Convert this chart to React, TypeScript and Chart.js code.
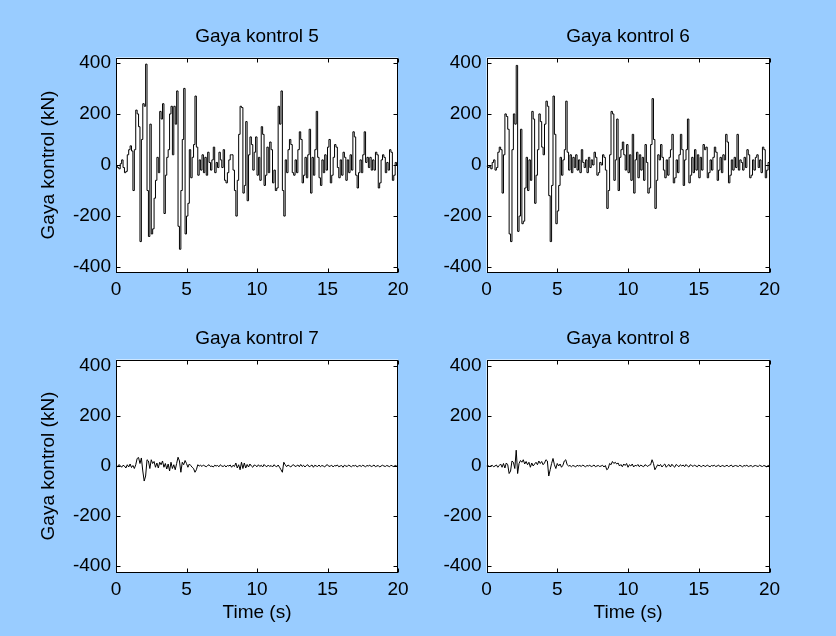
import React, { useEffect, useRef } from "react";
import { Chart, registerables } from "chart.js";

Chart.register(...registerables);

// ---------------- data ----------------
const TIME_STEP = 0.1; // seconds between samples
const X_TICKS = [0, 5, 10, 15, 20];
const Y_TICKS = [-400, -200, 0, 200, 400];
const X_MIN = 0;
const X_MAX = 20;
const Y_LIM_TOP = 421;
const Y_LIM_BOTTOM = 425;

const TITLES = ["Gaya kontrol 5", "Gaya kontrol 6", "Gaya kontrol 7", "Gaya kontrol 8"];
const Y_LABEL = "Gaya kontrol (kN)";
const X_LABEL = "Time (s)";

// Gaya kontrol 5 (kN), one value per 0.1 s, t = 0 .. 20
const GAYA5 = [
  -5, -10, -15, 5, 20, -10, -30, -25, 40, 60,
  75, 55, -100, 60, 215, 200, 150, -300, 100, 240,
  230, 395, -100, -280, 160, -270, -250, -130, -60, 30,
  -30, 210, 180, 240, -190, -40, 30, 60, 200, 230,
  40, 230, 160, 290, -240, -330, -100, 100, 300, -270,
  -200, -150, 60, -50, 30, 80, 270, 70, -40, 20,
  -20, 40, -30, 30, -40, 50, 10, -20, 20, 70,
  -30, 10, -10, 50, 20, -10, 60, -60, -70, -30,
  20, 40, 40, -20, -100, -200, -60, 120, 230, 225,
  -110, -80, 170, -140, 40, 110, 80, -20, 50, 110,
  -40, 30, -60, 150, 120, -80, -40, 70, -30, 90,
  60, -70, -20, -100, -90, 230, 160, 290, -100, -200,
  20, -30, 60, 100, 80, -30, -40, 20, -30, 60,
  130, 100, -70, -40, 30, -50, 40, 140, -110, 30,
  -40, 60, 210, 30, -50, -80, 20, -30, 40, -20,
  70, 100, -70, -40, 30, 80, 70, -10, -50, 20,
  -40, 50, 30, -60, 20, -30, 40, -20, 130, 110,
  -40, -90, -30, 20, -30, 40, 130, 10, 30, -10,
  30, -20, 20, -20, 50, 40, -90, -70, 20, 40,
  30, -30, 10, -20, 60, 50, -60, -40, 10, 0,
  10,
];

// Gaya kontrol 6 (kN)
const GAYA6 = [
  -5, -10, -5, -15, 10, 20, -20, -10, 50, 70,
  60, -110, 40, 200, 190, 140, -270, -300, 60, 200,
  160, 390, -260, -200, 140, -230, -220, -90, 30, -100,
  20, -60, 210, 180, -150, -40, 60, 200, 170, 70,
  40, 160, 250, 230, -120, -300, -80, 270, 120, -230,
  -180, -80, 30, -40, 20, 60, 250, 50, -20, 40,
  -30, 30, -10, 40, -20, 20, -30, 60, 10, -10,
  20, -30, 30, -10, 20, 0, 50, 30, -40, -30,
  10, 0, 40, 30, -20, -170, -100, 40, 210, 200,
  -60, 20, 180, -100, 30, 60, 90, 40, -20, 80,
  -30, 40, -60, 120, -110, 20, 50, -50, 40, -20,
  30, -60, 80, 10, -110, -90, 80, 260, 100, -170,
  -60, 40, 20, 80, 30, -20, -50, 20, -40, 30,
  60, 120, -70, -50, 20, -30, 40, 120, 60, -80,
  20, 60, 180, -70, -40, 30, -30, 60, -20, 40,
  -50, 30, -20, 80, 60, 70, -50, -30, 20, -20,
  30, 70, 50, -60, -20, 30, -30, 40, 20, 120,
  90, -70, -40, 20, -20, 30, -10, 120, -20, 20,
  10, -20, 30, -10, 60, 40, -50, -40, 20, -20,
  30, 40, -10, 20, -30, 70, 60, -50, -20, 10,
  10,
];

// Gaya kontrol 7 (kN)
const GAYA7 = [
  0, -3, 5, 2, -5, 3, 0, -8, 5, -4,
  8, -6, 2, -10, 5, 30, 34, 10, 32, -20,
  -60, -40, 25, 20, -10, 25, 10, 18, -5, 12,
  -8, 15, 5, 20, -5, 10, -12, 8, -20, 15,
  -10, 5, -15, 10, 35, 20, -25, 15, 5, 22,
  10, -5, 8, 2, -5, -10, -25, -15, 5, 0,
  3, -2, 4, 0, -3, 2, 5, -2, 0, -4,
  3, 0, 2, -3, 5, 0, -2, 3, -4, 2,
  0, 4, -5, 3, -2, 12, -8, 5, -15, 15,
  -10, 12, -8, 6, -4, 8, 0, -5, 4, 2,
  -3, 5, -2, 3, -4, 6, 0, -3, 4, -2,
  2, -4, 5, 0, -3, 4, -5, -15, -25, 15,
  5, -3, 4, 0, -4, 3, 5, -2, 0, 4,
  -3, 6, -2, 3, -4, 2, 5, -3, 0, 4,
  -5, 3, 0, -2, 4, -3, 2, 0, -4, 3,
  5, -2, 0, 3, -4, 2, 0, 4, -3, 0,
  2, -5, 3, 0, -2, 4, 0, -3, 2, 0,
  3, -4, 0, 2, -2, 3, 0, -3, 2, 0,
  3, -2, 0, 4, -3, 0, 2, -4, 0, 3,
  0, -2, 2, 0, -3, 3, 0, -2, 2, 0,
  3,
];

// Gaya kontrol 8 (kN)
const GAYA8 = [
  0, 2, -2, 0, 3, -3, 0, 4, -5, 2,
  8, -5, 10, -8, 12, 5, -30, -20, 20, 15,
  -10, 63, -30, 10, 22, 15, 25, 8, 18, 5,
  15, -5, 12, 0, 8, 15, 5, 20, 10, 18,
  5, 12, 25, 20, -40, -15, 10, 30, 5, -10,
  10, 0, 8, -5, 3, 20, 25, 5, 0, 2,
  -3, 2, 0, -4, 3, 0, 2, -2, 4, 0,
  -3, 2, 0, 3, -2, 0, 4, -3, 0, 2,
  -2, 0, 3, -4, 2, -15, -10, 10, 5, 18,
  10, 15, 8, 12, 0, 6, -3, 8, 2, 10,
  -5, 5, 0, 8, -4, 3, 0, 6, -3, 4,
  0, -3, 5, 2, -2, 4, 5, 25, 10, -15,
  -5, 5, 0, 6, -4, 3, 8, -5, 2, 6,
  -4, 7, 0, -5, 6, 2, -3, 5, 0, 4,
  -3, 6, 0, -4, 5, 2, -2, 4, 0, -3,
  4, 0, -3, 3, 0, -2, 4, 0, -3, 2,
  0, 3, -2, 0, 4, -3, 0, 2, -2, 0,
  3, -2, 0, 4, -3, 0, 2, 0, -2, 3,
  0, -3, 2, 0, 3, -2, 0, 2, -3, 0,
  2, 0, -2, 3, 0, -2, 2, 0, -3, 2,
  0,
];

// ---------------- layout / style ----------------
const FIG_W = 836;
const FIG_H = 636;
const CELL_W = 418;
const CELL_H = 318;
const BG = "#99ccff";
const FONT_FAMILY = '"Liberation Sans", Arial, Helvetica, sans-serif';
const FS = 19;
const LH = FS * 1.2;

const PANELS = [
  { title: TITLES[0], values: GAYA5, lim: Y_LIM_TOP, left: 0, top: 0, cL: 116, cR: 398, cT: 57.5, cB: 272.5, yTitle: true, xTitle: false, stepped: true },
  { title: TITLES[1], values: GAYA6, lim: Y_LIM_TOP, left: 418, top: 0, cL: 68.5, cR: 351.5, cT: 57.5, cB: 272.5, yTitle: false, xTitle: false, stepped: true },
  { title: TITLES[2], values: GAYA7, lim: Y_LIM_BOTTOM, left: 0, top: 318, cL: 116, cR: 398, cT: 41.5, cB: 254.5, yTitle: true, xTitle: true, stepped: false },
  { title: TITLES[3], values: GAYA8, lim: Y_LIM_BOTTOM, left: 418, top: 318, cL: 68.5, cR: 351.5, cT: 41.5, cB: 254.5, yTitle: false, xTitle: true, stepped: false },
];

type Panel = (typeof PANELS)[number];

function framePlugin(title: string) {
  return {
    id: "matlabFrame",
    beforeDatasetsDraw(chart: any) {
      const { ctx, chartArea: a } = chart;
      ctx.save();
      ctx.fillStyle = "#ffffff";
      ctx.fillRect(a.left, a.top, a.right - a.left, a.bottom - a.top);
      ctx.restore();
    },
    afterDraw(chart: any) {
      const { ctx, chartArea: a, scales } = chart;
      ctx.save();
      ctx.strokeStyle = "#000";
      ctx.lineWidth = 1;
      const l = Math.round(a.left) + 0.5;
      const r = Math.round(a.right) - 0.5;
      const t = Math.round(a.top) + 0.5;
      const b = Math.round(a.bottom) - 0.5;
      ctx.strokeRect(l, t, r - l, b - t);
      const TL = 4;
      ctx.beginPath();
      for (const v of X_TICKS) {
        const x = Math.round(scales.x.getPixelForValue(v)) + 0.5;
        ctx.moveTo(x, b);
        ctx.lineTo(x, b - TL);
        ctx.moveTo(x, t);
        ctx.lineTo(x, t + TL);
      }
      for (const v of Y_TICKS) {
        const y = Math.round(scales.y.getPixelForValue(v)) + 0.5;
        ctx.moveTo(l, y);
        ctx.lineTo(l + TL, y);
        ctx.moveTo(r, y);
        ctx.lineTo(r - TL, y);
      }
      ctx.stroke();
      ctx.fillStyle = "#000";
      ctx.font = `${FS}px ${FONT_FAMILY}`;
      ctx.textAlign = "center";
      ctx.textBaseline = "alphabetic";
      ctx.fillText(title, (a.left + a.right) / 2, a.top - 15.5);
      ctx.restore();
    },
  };
}

function SubPlot({ p }: { p: Panel }) {
  const ref = useRef<HTMLCanvasElement>(null);
  useEffect(() => {
    if (!ref.current) return;
    const font = { family: FONT_FAMILY, size: FS, lineHeight: 1.2 };
    const padLeft = p.yTitle ? 48.5 - LH / 2 : 10;
    const yWidth = p.cL - padLeft;
    const padRight = CELL_W - p.cR;
    let padBottom: number;
    let xHeight: number;
    if (p.xTitle) {
      const scaleBottom = 613 - p.top + LH / 2;
      padBottom = CELL_H - scaleBottom;
      xHeight = scaleBottom - p.cB;
    } else {
      padBottom = 5;
      xHeight = CELL_H - 5 - p.cB;
    }
    const pts = p.values.map((v, i) => ({ x: Math.round(i * TIME_STEP * 10) / 10, y: v }));
    const chart = new Chart(ref.current, {
      type: "line",
      data: {
        datasets: [
          {
            data: pts,
            borderColor: "#000",
            borderWidth: 1,
            pointRadius: 0,
            stepped: p.stepped,
            tension: 0,
            fill: false,
          },
        ],
      },
      options: {
        responsive: false,
        animation: false,
        events: [],
        layout: { padding: { left: padLeft, right: padRight, top: p.cT, bottom: padBottom } },
        plugins: {
          legend: { display: false },
          tooltip: { enabled: false },
          title: { display: false },
        },
        scales: {
          x: {
            type: "linear",
            min: X_MIN,
            max: X_MAX,
            afterBuildTicks: (s: any) => {
              s.ticks = X_TICKS.map((v) => ({ value: v }));
            },
            afterFit: (s: any) => {
              s.height = xHeight;
            },
            grid: { display: false, drawTicks: false },
            border: { display: false },
            ticks: {
              padding: 17.5 - LH / 2,
              font,
              color: "#000",
              maxRotation: 0,
              autoSkip: false,
              callback: (v: any) => String(v),
            },
            title: { display: p.xTitle, text: X_LABEL, font, color: "#000", padding: 0 },
          },
          y: {
            type: "linear",
            min: -p.lim,
            max: p.lim,
            afterBuildTicks: (s: any) => {
              s.ticks = Y_TICKS.map((v) => ({ value: v }));
            },
            afterFit: (s: any) => {
              s.width = yWidth;
            },
            grid: { display: false, drawTicks: false },
            border: { display: false },
            ticks: {
              padding: 5,
              font,
              color: "#000",
              autoSkip: false,
              callback: (v: any) => String(v),
            },
            title: { display: p.yTitle, text: Y_LABEL, font, color: "#000", padding: 0 },
          },
        },
      },
      plugins: [framePlugin(p.title)],
    } as any);
    return () => chart.destroy();
  }, [p]);
  return (
    <canvas
      ref={ref}
      width={CELL_W}
      height={CELL_H}
      style={{ position: "absolute", left: p.left, top: p.top, width: CELL_W, height: CELL_H }}
    />
  );
}

export default function App() {
  return (
    <div
      style={{
        position: "absolute",
        left: 0,
        top: 0,
        width: FIG_W,
        height: FIG_H,
        background: BG,
        overflow: "hidden",
      }}
    >
      {PANELS.map((p, i) => (
        <SubPlot key={i} p={p} />
      ))}
    </div>
  );
}
